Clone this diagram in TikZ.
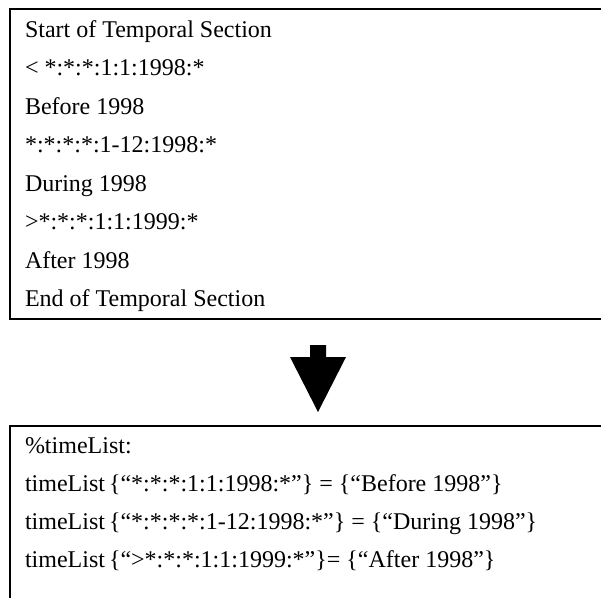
\documentclass[tikz,border=0pt]{standalone}
\usepackage{fontspec}
\setmainfont{Liberation Serif}
\begin{document}
\begin{tikzpicture}[x=1pt,y=-1pt,
  frame/.style={draw=black,line width=2pt},
  entry/.style={anchor=base west,inner sep=0pt,outer sep=0pt,
    font=\fontsize{24}{28}\selectfont},
  bigarrow/.style={fill=black,draw=none}]
\useasboundingbox (0,0) rectangle (601,597);
\begin{scope}
\clip (0,0) rectangle (601,597);
% upper box: temporal section of the source
\draw[frame] (9.5,8.5) rectangle (640,318.5);
% lower box: resulting timeList assignments
\draw[frame] (9.5,426) rectangle (640,640);
\end{scope}

% lines of the temporal section
\node[entry] (s1) at (25,37.3)  {Start of Temporal Section};
\node[entry] (s2) at (25,75.8)  {< *:*:*:1:1:1998:*};
\node[entry] (s3) at (25,114.3) {Before 1998};
\node[entry] (s4) at (25,152.8) {*:*:*:*:1-12:1998:*};
\node[entry] (s5) at (25,191.3) {During 1998};
\node[entry] (s6) at (25,229.8) {>*:*:*:1:1:1999:*};
\node[entry] (s7) at (25,268.3) {After 1998};
\node[entry] (s8) at (25,306.8) {End of Temporal Section};

% block arrow between the two boxes (shifts are in canvas units, up is positive)
\coordinate (tip) at (318,412);
\fill[bigarrow] ([xshift=-8pt,yshift=67pt]tip) -- ([xshift=8pt,yshift=67pt]tip)
  -- ([xshift=8pt,yshift=55pt]tip) -- ([xshift=28pt,yshift=55pt]tip)
  -- (tip) -- ([xshift=-28pt,yshift=55pt]tip)
  -- ([xshift=-8pt,yshift=55pt]tip) -- cycle;

% generated timeList entries
\node[entry] (t1) at (25,453.5) {\%timeList:};
\node[entry] (t2) at (25,491.5) {timeList\,\{“*:*:*:1:1:1998:*”\} = \{“Before 1998”\}};
\node[entry] (t3) at (25,529.5) {timeList\,\{“*:*:*:*:1-12:1998:*”\} = \{“During 1998”\}};
\node[entry] (t4) at (25,567)   {timeList\,\{“>*:*:*:1:1:1999:*”\}= \{“After 1998”\}};
\end{tikzpicture}
\end{document}
